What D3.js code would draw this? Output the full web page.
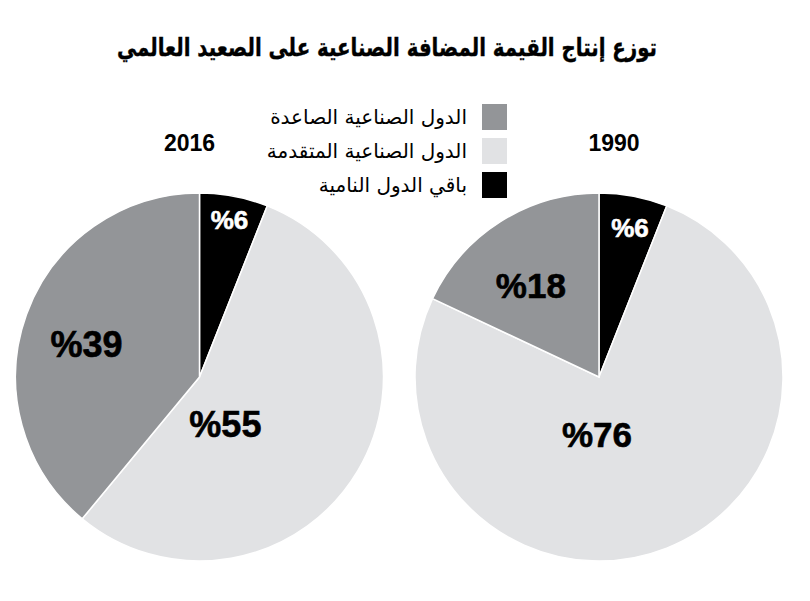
<!DOCTYPE html>
<html>
<meta charset="utf-8">
<style>
body { margin: 0; background: #fff; }
.slice { stroke: #fff; stroke-width: 1.5; }
.pct { font-family: "Liberation Sans", Arial, sans-serif; font-weight: bold; text-anchor: middle; stroke-width: 0.6; }
.year { font-family: "Liberation Sans", Arial, sans-serif; font-weight: bold; font-size: 23px; text-anchor: middle; }
.legend text { font-family: "DejaVu Sans", sans-serif; font-size: 20px; text-anchor: end; }
.title { font-family: "DejaVu Sans", sans-serif; font-weight: bold; font-size: 25px; text-anchor: middle; stroke: #000; stroke-width: 0.4; }
</style>
<body>
<svg width="810" height="601"></svg>
<script src="https://d3js.org/d3.v7.min.js"></script>
<script>
// data
var categories = ["باقي الدول النامية", "الدول الصناعية المتقدمة", "الدول الصناعية الصاعدة"];
var years = ["2016", "1990"];
var values2016 = [6, 55, 39];
var values1990 = [6, 76, 18];
var legendOrder = [2, 1, 0];

var colors = ["#000000", "#e1e2e4", "#939598"];

var svg = d3.select("svg");

svg.append("text")
    .attr("class", "title")
    .attr("x", 387)
    .attr("y", 56)
    .attr("textLength", 540)
    .attr("lengthAdjust", "spacingAndGlyphs")
    .text("توزع إنتاج القيمة المضافة الصناعية على الصعيد العالمي");

var radius = 184;
var pie = d3.pie().sort(null).value(function(d) { return d; });
var arc = d3.arc().innerRadius(0).outerRadius(radius);

// label placement per slice: [angle in degrees, radius fraction, font size]
var pies = [
  { year: years[0], values: values2016, cx: 199.5, cy: 377, yearX: 189.5,
    labels: [[10.8, 0.87, 26], [151, 0.29, 36], [286.2, 0.64, 36]] },
  { year: years[1], values: values1990, cx: 599, cy: 377, yearX: 614,
    labels: [[11.7, 0.83, 26], [182, 0.31, 35], [323.3, 0.62, 35]] }
];

pies.forEach(function(p) {
  var g = svg.append("g")
      .attr("transform", "translate(" + p.cx + "," + p.cy + ")");

  g.selectAll(".slice")
    .data(pie(p.values))
    .enter().append("path")
      .attr("class", "slice")
      .attr("fill", function(d, i) { return colors[i]; })
      .attr("d", arc);

  g.selectAll(".pct")
    .data(pie(p.values))
    .enter().append("text")
      .attr("class", "pct")
      .attr("fill", function(d, i) { return i === 0 ? "#fff" : "#000"; })
      .attr("stroke", function(d, i) { return i === 0 ? "#fff" : "#000"; })
      .style("font-size", function(d, i) { return p.labels[i][2] + "px"; })
      .attr("x", function(d, i) { return Math.sin(p.labels[i][0] * Math.PI / 180) * p.labels[i][1] * radius; })
      .attr("y", function(d, i) { return -Math.cos(p.labels[i][0] * Math.PI / 180) * p.labels[i][1] * radius; })
      .attr("dy", "0.36em")
      .text(function(d) { return "%" + d.data; });

  svg.append("text")
      .attr("class", "year")
      .attr("x", p.yearX)
      .attr("y", 151)
      .text(p.year);
});

var legend = svg.append("g").attr("class", "legend");
var row = legend.selectAll("g")
    .data(legendOrder)
    .enter().append("g")
      .attr("transform", function(d, i) { return "translate(0," + (104 + i * 34) + ")"; });

row.append("rect")
    .attr("x", 482)
    .attr("width", 25)
    .attr("height", 26)
    .attr("fill", function(d) { return colors[d]; });

row.append("text")
    .attr("x", 467)
    .attr("y", 13)
    .attr("dy", "0.35em")
    .text(function(d) { return categories[d]; });
</script>
</body>
</html>
